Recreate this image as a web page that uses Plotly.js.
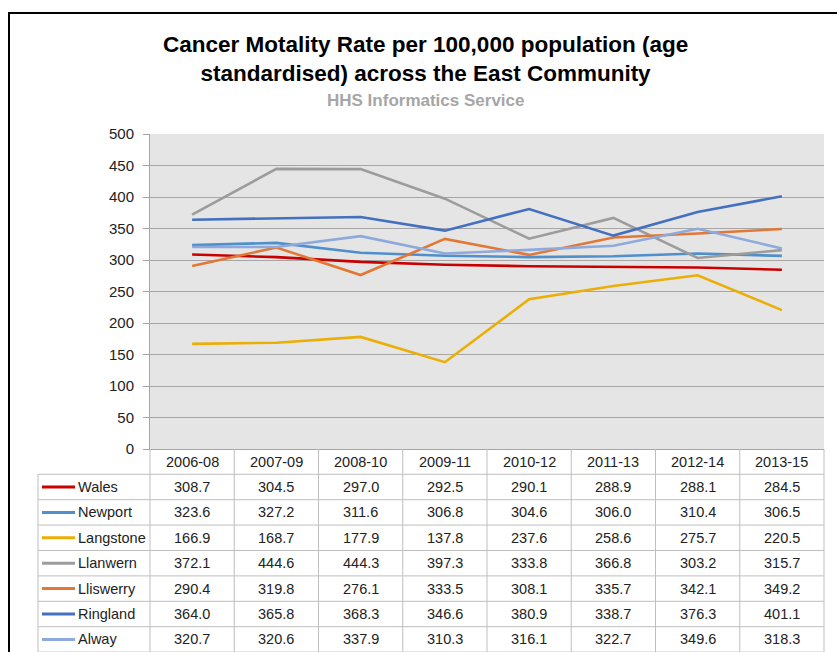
<!DOCTYPE html>
<html>
<head>
<meta charset="utf-8">
<script src="https://cdn.plot.ly/plotly-3.0.1.min.js"></script>
<style>html,body{margin:0;padding:0;background:#fff;}#chart{width:837px;height:652px;}</style>
</head>
<body>
<div id="chart"></div>
<script>
var categories = ['2006-08','2007-09','2008-10','2009-11','2010-12','2011-13','2012-14','2013-15'];
var seriesNames = ['Wales','Newport','Langstone','Llanwern','Lliswerry','Ringland','Alway'];
var wales     = [308.7,304.5,297.0,292.5,290.1,288.9,288.1,284.5];
var newport   = [323.6,327.2,311.6,306.8,304.6,306.0,310.4,306.5];
var langstone = [166.9,168.7,177.9,137.8,237.6,258.6,275.7,220.5];
var llanwern  = [372.1,444.6,444.3,397.3,333.8,366.8,303.2,315.7];
var lliswerry = [290.4,319.8,276.1,333.5,308.1,335.7,342.1,349.2];
var ringland  = [364.0,365.8,368.3,346.6,380.9,338.7,376.3,401.1];
var alway     = [320.7,320.6,337.9,310.3,316.1,322.7,349.6,318.3];
var seriesValues = [wales,newport,langstone,llanwern,lliswerry,ringland,alway];
var seriesColors = ['#C80000','#4F8FCB','#EBAE05','#9C9C9C','#E27834','#4470C0','#8EA9DB'];
var titleText = 'Cancer Motality Rate per 100,000 population (age<br>standardised) across the East Community';
var subtitleText = 'HHS Informatics Service';

var FONT = 'Liberation Sans, Arial, sans-serif';
var W = 837, H = 652;
var mL = 150, mR = 13, mT = 134, mB = 203;
var plotW = W - mL - mR, plotH = H - mT - mB;
function px2x(px){ return (px - mL) / plotW; }
function py2y(py){ return (H - mB - py) / plotH; }

var traces = seriesNames.map(function(n,i){
  return {type:'scatter', mode:'lines', name:n, x:categories, y:seriesValues[i],
          line:{color:seriesColors[i], width:2.6}, hoverinfo:'x+y+name'};
});

var shapes = [], annotations = [];
var gridCol = '#BFBFBF';
var nCat = categories.length;
var headerTop = H - mB, headerBot = 474.3, rowH = 25.4;
var tableLeft = 38, tableRight = mL + plotW;
var tableBottom = headerBot + rowH * seriesNames.length;

// outer chart border
shapes.push({type:'line', xref:'paper', yref:'paper', x0:px2x(9), x1:px2x(845), y0:py2y(13), y1:py2y(13), line:{color:'#000', width:2}});
shapes.push({type:'line', xref:'paper', yref:'paper', x0:px2x(9), x1:px2x(9), y0:py2y(12), y1:py2y(660), line:{color:'#000', width:2}});

// table horizontal lines
for (var r = 0; r <= seriesNames.length; r++) {
  var yy = headerBot + rowH * r;
  shapes.push({type:'line', xref:'paper', yref:'paper', x0:px2x(tableLeft), x1:px2x(tableRight), y0:py2y(yy), y1:py2y(yy), line:{color:gridCol, width:1}});
}
// table vertical lines
shapes.push({type:'line', xref:'paper', yref:'paper', x0:px2x(tableLeft), x1:px2x(tableLeft), y0:py2y(headerBot), y1:py2y(tableBottom), line:{color:gridCol, width:1}});
for (var k = 0; k <= nCat; k++) {
  shapes.push({type:'line', xref:'paper', yref:'paper', x0:k/nCat, x1:k/nCat, y0:py2y(headerTop), y1:py2y(tableBottom), line:{color:gridCol, width:1}});
}
// header labels
categories.forEach(function(c,i){
  annotations.push({xref:'paper', yref:'paper', x:(i+0.5)/nCat, y:py2y((headerTop+headerBot)/2), text:c, showarrow:false,
    xanchor:'center', yanchor:'middle', font:{family:FONT, size:14.5, color:'#222'}});
});
// body
seriesNames.forEach(function(n,r){
  var cy = headerBot + rowH*(r+0.5);
  shapes.push({type:'line', xref:'paper', yref:'paper', x0:px2x(42), x1:px2x(75), y0:py2y(cy), y1:py2y(cy), line:{color:seriesColors[r], width:3}});
  annotations.push({xref:'paper', yref:'paper', x:px2x(76), y:py2y(cy), text:n, showarrow:false,
    xanchor:'left', yanchor:'middle', font:{family:FONT, size:14.5, color:'#222'}});
  seriesValues[r].forEach(function(v,i){
    annotations.push({xref:'paper', yref:'paper', x:(i+0.5)/nCat, y:py2y(cy), text:v.toFixed(1), showarrow:false,
      xanchor:'center', yanchor:'middle', font:{family:FONT, size:14.5, color:'#222'}});
  });
});
// titles
annotations.push({xref:'paper', yref:'paper', x:px2x(425), y:py2y(59), text:titleText, showarrow:false,
  xanchor:'center', yanchor:'middle', font:{family:FONT, size:22.5, color:'#000', weight:'bold'}});
annotations.push({xref:'paper', yref:'paper', x:px2x(425), y:py2y(101), text:subtitleText, showarrow:false,
  xanchor:'center', yanchor:'middle', font:{family:FONT, size:17, color:'#A6A6A6', weight:'bold'}});

var layout = {
  width:W, height:H,
  margin:{l:mL, r:mR, t:mT, b:mB, pad:0},
  paper_bgcolor:'#FFFFFF', plot_bgcolor:'#E5E5E5',
  showlegend:false,
  font:{family:FONT, size:14, color:'#222'},
  xaxis:{type:'category', range:[-0.5, nCat-0.5], showticklabels:false, ticks:'', showgrid:false, zeroline:false,
         showline:true, linecolor:'#A6A6A6', linewidth:1, fixedrange:true},
  yaxis:{range:[0,500], dtick:50, tick0:0, showgrid:true, gridcolor:'#A6A6A6', gridwidth:1, zeroline:false,
         showline:true, linecolor:'#A6A6A6', linewidth:1, ticks:'outside', ticklen:6, tickcolor:'#A6A6A6',
         ticklabelstandoff:6,
         tickfont:{family:FONT, size:15, color:'#222'}, fixedrange:true},
  shapes:shapes, annotations:annotations
};
Plotly.newPlot('chart', traces, layout, {displayModeBar:false, staticPlot:true});
</script>
</body>
</html>
